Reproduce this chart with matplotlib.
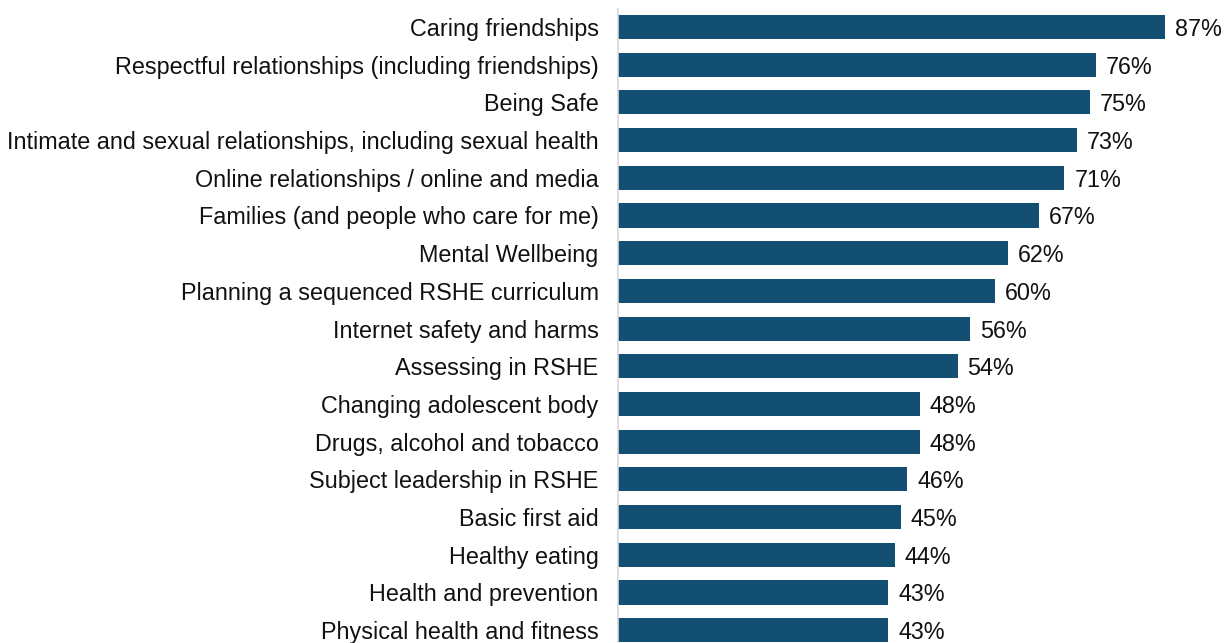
import matplotlib
matplotlib.use("Agg")
import matplotlib.pyplot as plt

topics = [
    "Caring friendships",
    "Respectful relationships (including friendships)",
    "Being Safe",
    "Intimate and sexual relationships, including sexual health",
    "Online relationships / online and media",
    "Families (and people who care for me)",
    "Mental Wellbeing",
    "Planning a sequenced RSHE curriculum",
    "Internet safety and harms",
    "Assessing in RSHE",
    "Changing adolescent body",
    "Drugs, alcohol and tobacco",
    "Subject leadership in RSHE",
    "Basic first aid",
    "Healthy eating",
    "Health and prevention",
    "Physical health and fitness",
]
pct = [87, 76, 75, 73, 71, 67, 62, 60, 56, 54, 48, 48, 46, 45, 44, 43, 43]

plt.rcParams['font.family'] = ['Liberation Sans', 'DejaVu Sans']

W, H = 1224, 643
fig = plt.figure(figsize=(W / 100, H / 100), dpi=100)
ax = fig.add_axes([618 / W, 0, 1 - 618 / W, (H - 9) / H])

y = list(range(len(topics)))
ax.barh(y, pct, height=0.64, color="#134f72")
for yi, v in zip(y, pct):
    ax.text(v + 1.6, yi, f"{v}%", va="center_baseline", ha="left",
            fontsize=16.8, color="#111111")

ax.set_xlim(0, (W - 618) / ((1165 - 618) / 87))
ax.set_ylim((H - 27) / 37.7, -0.477)
ax.set_yticks(y)
ax.set_yticklabels(topics, fontsize=16.8, color="#111111", va="center_baseline")
ax.tick_params(axis="y", length=0, pad=14)
ax.set_xticks([])
for s in ["top", "right", "bottom"]:
    ax.spines[s].set_visible(False)
ax.spines["left"].set_color("#d9d9d9")
ax.spines["left"].set_linewidth(1.2)

fig.savefig("out.png", dpi=100)
